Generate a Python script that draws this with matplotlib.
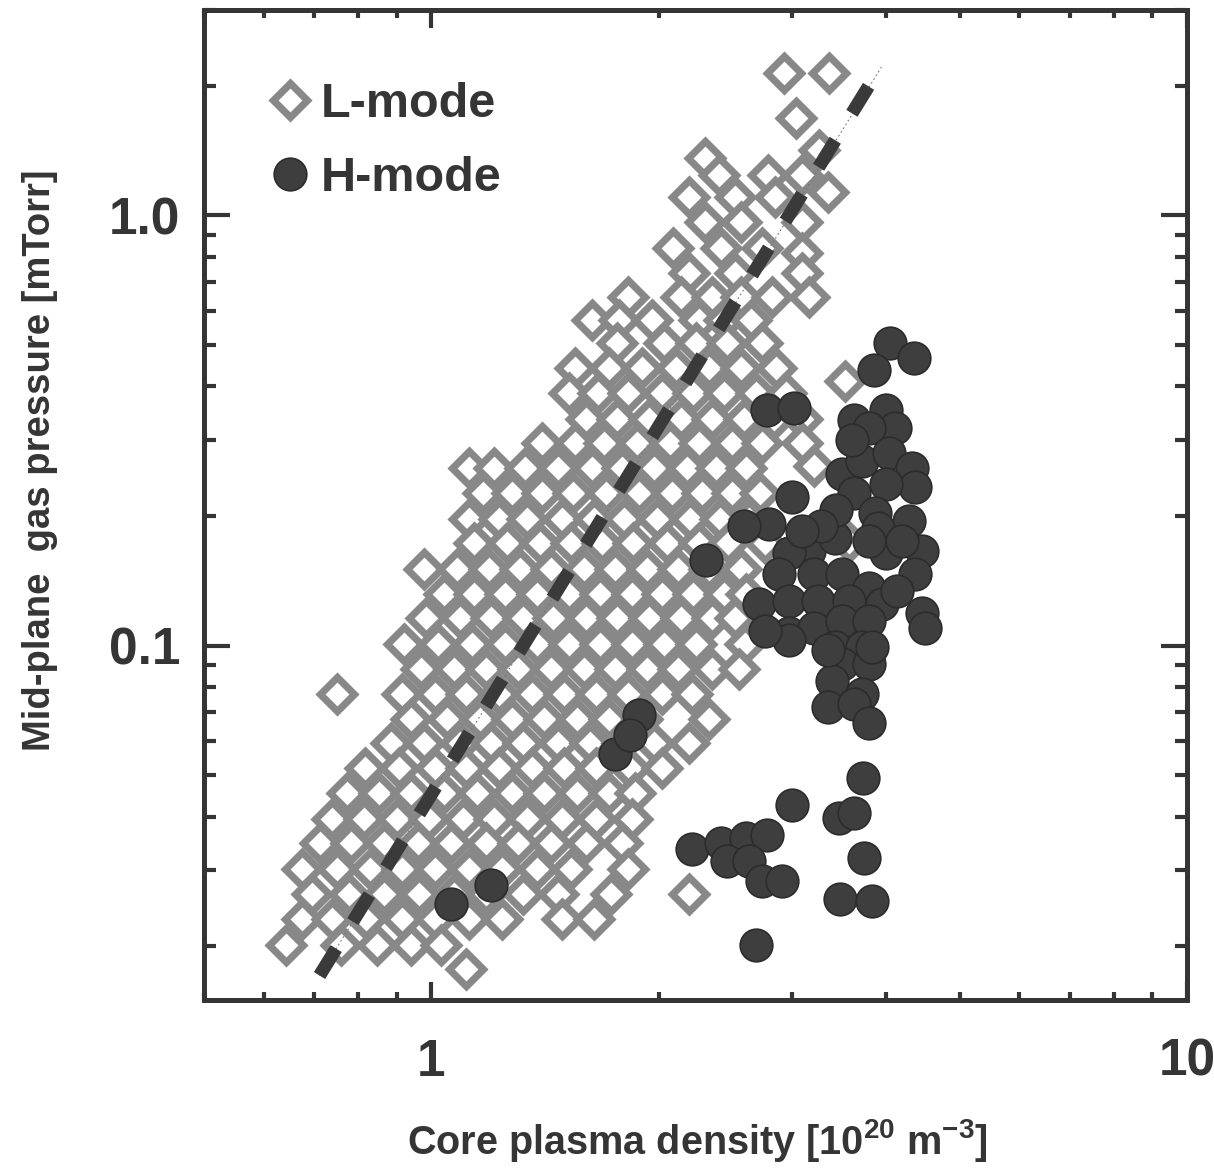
import matplotlib
matplotlib.use("Agg")
import matplotlib.pyplot as plt
from matplotlib.ticker import LogLocator, NullFormatter, FixedLocator, FixedFormatter
from matplotlib.lines import Line2D

plt.rcParams['font.family'] = ['Liberation Sans', 'DejaVu Sans']
plt.rcParams['font.weight'] = 'bold'
plt.rcParams['mathtext.fontset'] = 'custom'
plt.rcParams['mathtext.rm'] = 'Liberation Sans:bold'
plt.rcParams['mathtext.bf'] = 'Liberation Sans:bold'
plt.rcParams['mathtext.default'] = 'bf'

# ---------------- data ----------------
# L-mode discharges: core plasma density [1e20 m^-3], mid-plane gas pressure [mTorr]
lmode_density = [
    2.93, 3.36,
    3.04,
    3.26, 2.30,
    2.40, 2.79, 3.09,
    2.19, 2.52, 2.85, 3.35,
    2.30, 2.57, 3.09,
    2.09, 2.42, 2.74, 3.09,
    2.19, 2.52, 3.09,
    1.82, 2.14, 2.35, 2.57, 2.82, 3.16,
    1.63, 1.77, 1.96, 2.26, 2.44, 2.65,
    1.76, 2.03, 2.24, 2.46, 2.74,
    1.55, 1.72, 1.90, 2.11, 2.33, 2.57, 2.86, 3.53,
    1.52, 1.66, 1.82, 2.02, 2.22, 2.44, 2.69, 2.95,
    1.60, 1.76, 1.94, 2.14, 2.35, 2.59, 2.84, 3.09,
    1.40, 1.55, 1.69, 1.87, 2.07, 2.26, 2.50, 2.74, 3.09,
    1.12, 1.21, 1.33, 1.47, 1.63, 1.79, 1.97, 2.18, 2.38, 2.61, 3.21,
    1.17, 1.28, 1.40, 1.54, 1.70, 1.88, 2.08, 2.28, 2.50, 2.72,
    1.12, 1.23, 1.34, 1.49, 1.64, 1.80, 1.99, 2.20, 2.41, 2.63,
    1.14, 1.26, 1.39, 1.53, 1.68, 1.85, 2.05, 2.26, 2.47, 2.76, 3.57,
    0.979, 1.08, 1.19, 1.31, 1.44, 1.59, 1.75, 1.93, 2.12, 2.33, 2.57,
    1.04, 1.14, 1.25, 1.38, 1.52, 1.67, 1.84, 2.02, 2.22, 2.44, 2.61,
    0.985, 1.09, 1.20, 1.32, 1.45, 1.60, 1.76, 1.94, 2.14, 2.35, 2.52,
    0.921, 1.02, 1.13, 1.25, 1.38, 1.52, 1.67, 1.84, 2.03, 2.24, 2.60,
    0.970, 1.07, 1.18, 1.30, 1.44, 1.59, 1.75, 1.93, 2.12, 2.35, 2.55,
    0.749, 0.913, 1.01, 1.11, 1.23, 1.36, 1.50, 1.65, 1.82, 2.02, 2.21,
    0.941, 1.05, 1.16, 1.28, 1.41, 1.56, 1.72, 1.90, 2.33,
    0.885, 0.979, 1.09, 1.20, 1.32, 1.47, 1.62, 1.79, 1.97, 2.19,
    0.816, 0.907, 1.01, 1.11, 1.23, 1.36, 1.50, 1.65, 1.83, 2.02,
    0.772, 0.853, 0.941, 1.04, 1.15, 1.28, 1.41, 1.56, 1.72, 1.86,
    0.738, 0.813, 0.899, 0.994, 1.10, 1.21, 1.34, 1.49, 1.65, 1.84,
    0.711, 0.783, 0.866, 0.961, 1.06, 1.18, 1.30, 1.44, 1.60, 1.79,
    0.673, 0.749, 0.828, 0.913, 1.01, 1.12, 1.24, 1.38, 1.53, 1.82,
    0.694, 0.779, 0.866, 0.964, 1.07, 1.18, 1.32, 1.47, 1.73, 2.19,
    0.673, 0.738, 0.820, 0.913, 1.01, 1.12, 1.24, 1.49, 1.64,
    0.642, 0.760, 0.846, 0.941, 1.03,
    1.11,
]
lmode_pressure = [
    2.14, 2.14,
    1.68,
    1.42, 1.36,
    1.24, 1.24, 1.24,
    1.10, 1.10, 1.10, 1.13,
    0.963, 0.963, 0.963,
    0.838, 0.838, 0.838, 0.816,
    0.733, 0.733, 0.733,
    0.645, 0.645, 0.645, 0.645, 0.645, 0.645,
    0.570, 0.570, 0.570, 0.570, 0.570, 0.570,
    0.504, 0.504, 0.504, 0.504, 0.504,
    0.441, 0.441, 0.441, 0.441, 0.441, 0.441, 0.441, 0.413,
    0.386, 0.386, 0.386, 0.386, 0.386, 0.386, 0.386, 0.386,
    0.337, 0.337, 0.337, 0.337, 0.337, 0.337, 0.337, 0.337,
    0.295, 0.295, 0.295, 0.295, 0.295, 0.295, 0.295, 0.295, 0.295,
    0.258, 0.258, 0.258, 0.258, 0.258, 0.258, 0.258, 0.258, 0.258, 0.258, 0.262,
    0.226, 0.226, 0.226, 0.226, 0.226, 0.226, 0.226, 0.226, 0.226, 0.226,
    0.197, 0.197, 0.197, 0.197, 0.197, 0.197, 0.197, 0.197, 0.197, 0.197,
    0.173, 0.173, 0.173, 0.173, 0.173, 0.173, 0.173, 0.173, 0.173, 0.173, 0.174,
    0.151, 0.151, 0.151, 0.151, 0.151, 0.151, 0.151, 0.151, 0.151, 0.151, 0.151,
    0.132, 0.132, 0.132, 0.132, 0.132, 0.132, 0.132, 0.132, 0.132, 0.132, 0.132,
    0.116, 0.116, 0.116, 0.116, 0.116, 0.116, 0.116, 0.116, 0.116, 0.116, 0.116,
    0.101, 0.101, 0.101, 0.101, 0.101, 0.101, 0.101, 0.101, 0.101, 0.101, 0.101,
    0.0884, 0.0884, 0.0884, 0.0884, 0.0884, 0.0884, 0.0884, 0.0884, 0.0884, 0.0884, 0.0884,
    0.0773, 0.0773, 0.0773, 0.0773, 0.0773, 0.0773, 0.0773, 0.0773, 0.0773, 0.0773, 0.0773,
    0.0676, 0.0676, 0.0676, 0.0676, 0.0676, 0.0676, 0.0676, 0.0676, 0.0676,
    0.0592, 0.0592, 0.0592, 0.0592, 0.0592, 0.0592, 0.0592, 0.0592, 0.0592, 0.0592,
    0.0518, 0.0518, 0.0518, 0.0518, 0.0518, 0.0518, 0.0518, 0.0518, 0.0518, 0.0518,
    0.0453, 0.0453, 0.0453, 0.0453, 0.0453, 0.0453, 0.0453, 0.0453, 0.0453, 0.0453,
    0.0396, 0.0396, 0.0396, 0.0396, 0.0396, 0.0396, 0.0396, 0.0396, 0.0396, 0.0396,
    0.0347, 0.0347, 0.0347, 0.0347, 0.0347, 0.0347, 0.0347, 0.0347, 0.0347, 0.0347,
    0.0303, 0.0303, 0.0303, 0.0303, 0.0303, 0.0303, 0.0303, 0.0303, 0.0303, 0.0303,
    0.0265, 0.0265, 0.0265, 0.0265, 0.0265, 0.0265, 0.0265, 0.0265, 0.0265, 0.0265,
    0.0232, 0.0232, 0.0232, 0.0232, 0.0232, 0.0232, 0.0232, 0.0232, 0.0232,
    0.0201, 0.0201, 0.0201, 0.0201, 0.0201,
    0.0177,
]

# H-mode discharges
hmode_density = [
    2.31, 1.06, 1.20, 1.88, 1.75, 1.83,
    4.05, 4.35, 3.85, 2.78, 3.02, 3.00, 2.80, 2.59,
    2.21, 2.42, 2.61, 2.78, 2.46, 2.63, 2.74, 2.91, 2.69,
    3.00, 3.73, 3.46, 3.62, 3.74, 3.47, 3.83,
    3.63, 3.99, 4.11, 3.79, 3.49, 3.71, 4.03, 4.32, 4.36, 3.99,
    3.63, 3.86, 4.28, 4.46, 4.36, 3.90, 3.99, 3.79, 3.16, 3.42,
    2.97, 2.88, 3.21, 3.49, 3.79, 2.71, 2.97, 3.25, 3.57, 3.95,
    4.46, 4.50, 2.97, 3.21, 3.49, 3.79, 3.42, 3.71, 3.49, 3.79,
    3.39, 3.71, 2.97, 3.35, 3.83, 3.35, 3.63, 3.79, 2.76, 4.19,
    4.13, 3.60, 3.43, 3.28, 3.09,
]
hmode_pressure = [
    0.158, 0.0251, 0.0278, 0.0691, 0.0561, 0.0618,
    0.504, 0.465, 0.436, 0.352, 0.356, 0.221, 0.192, 0.190,
    0.0337, 0.0347, 0.0357, 0.0362, 0.0316, 0.0316, 0.0284, 0.0284, 0.0201,
    0.0425, 0.0493, 0.0398, 0.0407, 0.0321, 0.0258, 0.0255,
    0.334, 0.352, 0.321, 0.321, 0.251, 0.269, 0.280, 0.259, 0.233, 0.238,
    0.226, 0.203, 0.195, 0.166, 0.147, 0.188, 0.164, 0.175, 0.166, 0.178,
    0.164, 0.147, 0.147, 0.147, 0.136, 0.125, 0.127, 0.127, 0.127, 0.125,
    0.119, 0.110, 0.107, 0.110, 0.114, 0.114, 0.0990, 0.0990, 0.0908, 0.0908,
    0.0829, 0.0773, 0.103, 0.0974, 0.0990, 0.0718, 0.0733, 0.0659, 0.108, 0.175,
    0.134, 0.300, 0.206, 0.190, 0.185,
]

# power-law fit line (thick dashed) and its thin dotted extension
fit_density = [0.711, 3.80]
fit_pressure = [0.0171, 2.01]
fit_thin_density = [0.711, 3.94]
fit_thin_pressure = [0.0171, 2.21]

x_ticks = [1, 10]
x_ticklabels = ['1', '10']
y_ticks = [0.1, 1.0]
y_ticklabels = ['0.1', '1.0']
series_labels = ['L-mode', 'H-mode']

# ---------------- figure ----------------
W, H = 1214, 1172
fig = plt.figure(figsize=(W / 100, H / 100), dpi=100)
ax = fig.add_axes([204 / W, 1 - 1000 / H, 983 / W, 990 / H])
ax.set_xscale('log')
ax.set_yscale('log')
ax.set_xlim(0.5, 10)
ax.set_ylim(0.015, 3)

INK = '#353535'
DIAM_EDGE = '#888888'
DOT = '#3e3e3e'

ax.plot(lmode_density, lmode_pressure, linestyle='none', marker='D',
        ms=17.8, mfc='white', mec=DIAM_EDGE, mew=5.2, zorder=2)
ax.plot(fit_thin_density, fit_thin_pressure, color='#777777', lw=0.8,
        linestyle=(0, (1.5, 2.5)), zorder=3)
ax.plot(fit_density, fit_pressure, color='#3a3a3a', lw=9.5,
        dashes=(2.4, 2.4), solid_capstyle='butt', dash_capstyle='butt', zorder=3)
ax.plot(hmode_density, hmode_pressure, linestyle='none', marker='o',
        ms=23.5, mfc=DOT, mec='#2c2c2c', mew=1.2, zorder=4)

# axes styling
for s in ax.spines.values():
    s.set_linewidth(3.6)
    s.set_color(INK)

ax.xaxis.set_major_locator(FixedLocator(x_ticks))
ax.xaxis.set_major_formatter(FixedFormatter(x_ticklabels))
ax.yaxis.set_major_locator(FixedLocator(y_ticks))
ax.yaxis.set_major_formatter(FixedFormatter(y_ticklabels))
ax.xaxis.set_minor_locator(LogLocator(base=10, subs=range(2, 10), numticks=20))
ax.yaxis.set_minor_locator(LogLocator(base=10, subs=range(2, 10), numticks=20))
ax.xaxis.set_minor_formatter(NullFormatter())
ax.yaxis.set_minor_formatter(NullFormatter())

ax.tick_params(which='both', direction='in', top=True, right=True, color=INK)
ax.tick_params(axis='x', which='major', length=13, width=3, pad=27,
               labelsize=37, labelcolor=INK)
ax.tick_params(axis='x', which='minor', length=6, width=3)
ax.tick_params(axis='y', which='major', length=19, width=3, pad=17,
               labelsize=37, labelcolor=INK)
ax.tick_params(axis='y', which='minor', length=8.5, width=3)
for lab in ax.get_xticklabels() + ax.get_yticklabels():
    lab.set_fontweight('bold')

# axis labels
fig.text(697 / W, 1 - 1140 / H, 'Core plasma density [10$^{20}$ m$^{-3}$]',
         ha='center', va='center', fontsize=28.5, fontweight='bold', color=INK)
fig.text(40 / W, 1 - 460 / H, 'Mid-plane  gas pressure [mTorr]',
         ha='center', va='center', rotation=90, fontsize=27.5,
         fontweight='bold', color=INK)

# legend
handles = [
    Line2D([], [], linestyle='none', marker='D', ms=17.8, mfc='white',
           mec=DIAM_EDGE, mew=5.2),
    Line2D([], [], linestyle='none', marker='o', ms=23.5, mfc=DOT,
           mec='#2c2c2c', mew=1.2),
]
leg = ax.legend(handles, series_labels, loc='upper left',
                bbox_to_anchor=((266 - 204) / 983, (1000 - 82) / 990),
                frameon=False, fontsize=35, handlelength=1.0,
                handletextpad=0.12, labelspacing=0.6, borderpad=0,
                borderaxespad=0)
for t in leg.get_texts():
    t.set_fontweight('bold')
    t.set_color(INK)

fig.savefig('out.png', dpi=100)
